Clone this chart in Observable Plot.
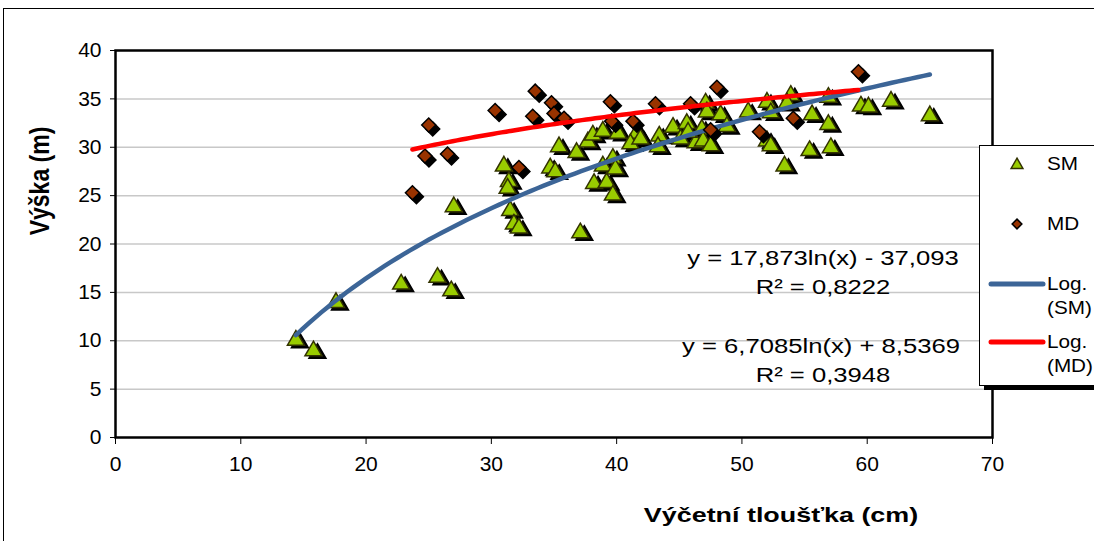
<!DOCTYPE html>
<html>
<head>
<meta charset="utf-8">
<script src="https://cdn.jsdelivr.net/npm/d3@7"></script>
<script src="https://cdn.jsdelivr.net/npm/@observablehq/plot@0.6"></script>
<style>
  html, body { margin: 0; padding: 0; background: white; }
  #wrap { position: relative; width: 1094px; height: 541px; overflow: hidden; font-family: "Liberation Sans", Arial, sans-serif; }
  #outer { position: absolute; left: 3px; top: 8px; width: 1200px; height: 700px; border-left: 1.5px solid #000; border-top: 1.5px solid #000; }
  .t { position: absolute; white-space: nowrap; color: #000; }
  #legend { position: absolute; left: 979px; top: 145px; width: 130px; height: 239px; background: white; border: 1px solid #000; box-shadow: 5px 4px 0 #000; }
</style>
</head>
<body>
<div id="wrap">
  <div id="outer"></div>
  <div id="chart" style="position:absolute;left:0;top:0;"></div>
  <div class="t" style="left:40px;top:181px;transform:translate(-50%,-50%) rotate(-90deg) scaleY(1.2);font-weight:bold;font-size:23px;">Výška (m)</div>
  <div class="t" style="left:781px;top:515px;transform:translate(-50%,-50%) scaleX(1.28);font-weight:bold;font-size:21px;">Výčetní tloušťka (cm)</div>
  <div class="t" id="eq1" style="left:823px;top:258px;transform:translate(-50%,-50%) scaleX(1.25);font-size:20.5px;"></div>
  <div class="t" id="r1" style="left:823px;top:287px;transform:translate(-50%,-50%) scaleX(1.25);font-size:20.5px;"></div>
  <div class="t" id="eq2" style="left:821px;top:346px;transform:translate(-50%,-50%) scaleX(1.25);font-size:20.5px;"></div>
  <div class="t" id="r2" style="left:823px;top:375px;transform:translate(-50%,-50%) scaleX(1.25);font-size:20.5px;"></div>
  <div id="legend"></div>
</div>
<script>
// ---- data ----
const smX = [14.4, 15.8, 17.6, 22.8, 25.7, 26.8, 27.0, 31.0, 31.4, 31.3, 31.5, 31.8, 32.2, 37.1, 34.7, 35.1,
  35.4, 36.8, 37.7, 38.1, 38.9, 38.9, 38.2, 39.2, 39.7, 39.7, 39.9, 40.1, 41.6, 41.1, 43.4, 43.3,
  44.5, 45.1, 45.6, 46.3, 46.8, 46.9, 47.1, 47.2, 47.5, 48.3, 48.8, 50.5, 52.0, 52.3, 53.9, 53.6,
  52.0, 52.3, 53.4, 55.6, 56.9, 56.9, 55.4, 57.1, 59.5, 60.1, 61.9, 65.0, 45.7, 41.9];
const smY = [10.2, 9.1, 14.1, 16.0, 16.7, 15.3, 24.0, 28.2, 26.6, 25.9, 23.6, 22.2, 21.8, 21.3, 28.0, 27.6,
  30.2, 29.6, 30.7, 31.4, 31.8, 28.2, 26.4, 26.5, 25.2, 29.0, 27.9, 31.6, 31.6, 30.5, 31.3, 30.2,
  32.2, 31.0, 32.6, 30.6, 32.0, 30.8, 34.7, 33.8, 30.3, 33.5, 32.3, 33.8, 34.8, 33.7, 35.5, 34.7,
  30.8, 30.3, 28.2, 33.5, 32.5, 35.3, 29.8, 30.1, 34.4, 34.3, 34.9, 33.4, 31.7, 31.0];
const mdX = [23.7, 25.0, 24.7, 26.5, 30.3, 32.2, 33.5, 33.3, 34.8, 35.0, 35.8, 39.5, 39.6, 41.3, 43.1, 45.9,
  47.5, 48.0, 51.4, 54.1, 59.3];
const mdY = [25.3, 32.3, 29.1, 29.3, 33.8, 27.9, 35.8, 33.2, 34.6, 33.5, 33.0, 34.7, 32.7, 32.7, 34.5, 34.5,
  31.8, 36.2, 31.6, 33.0, 37.8];
// logarithmic trend line coefficients as printed on the chart: y = a*ln(x) + b
const smCoef = [17.873, -37.093], smR2 = "0,8222";
const mdCoef = [6.7085, 8.5369], mdR2 = "0,3948";
const seriesNames = ["SM", "MD"];
const trendNames = ["Log.\n(SM)", "Log.\n(MD)"];
const xTicks = [0, 10, 20, 30, 40, 50, 60, 70];
const yTicks = [0, 5, 10, 15, 20, 25, 30, 35, 40];

const sm = smX.map((x, i) => ({x, y: smY[i]}));
const md = mdX.map((x, i) => ({x, y: mdY[i]}));
function trend(xs, c) {
  const lo = d3.min(xs), hi = d3.max(xs);
  return d3.range(0, 101).map(k => { const x = lo + (hi - lo) * k / 100; return {x, y: c[0] * Math.log(x) + c[1]}; });
}
const smLine = trend(smX, smCoef), mdLine = trend(mdX, mdCoef);

const GREEN = "#99cc00", GREEN_STROKE = "#333300", BROWN = "#993300", BLUE = "#3c6597", RED = "#ff0000";

const chart = Plot.plot({
  width: 1094, height: 541,
  marginLeft: 115, marginRight: 102, marginTop: 50, marginBottom: 104,
  x: {domain: [0, 70]},
  y: {domain: [0, 40]},
  style: {fontFamily: "'Liberation Sans', Arial, sans-serif", fontSize: "21px", color: "#000", background: "transparent", overflow: "visible"},
  marks: [
    Plot.gridY(yTicks.slice(1, -1), {stroke: "#c8c8c8", strokeOpacity: 1, strokeWidth: 1.5}),
    Plot.axisX({ticks: xTicks, tickSize: 7, tickPadding: 12, label: null, fontSize: 21, stroke: "#000"}),
    Plot.axisY({ticks: yTicks, tickSize: 5, tickPadding: 9, label: null, fontSize: 21, stroke: "#000"}),
    Plot.frame({stroke: "#000", strokeWidth: 2.5}),
    Plot.dot(sm, {x: "x", y: "y", symbol: "triangle", r: 6.3, fill: "#000", stroke: "#000", strokeWidth: 1.5, dx: 4, dy: 4}),
    Plot.dot(sm, {x: "x", y: "y", symbol: "triangle", r: 6.3, fill: GREEN, stroke: GREEN_STROKE, strokeWidth: 1.5, dy: 1.5}),
    Plot.line(smLine, {x: "x", y: "y", stroke: BLUE, strokeWidth: 4.5, strokeLinecap: "round"}),
    Plot.dot(md, {x: "x", y: "y", symbol: "diamond2", r: 6.3, fill: "#000", stroke: "#000", strokeWidth: 1.5, dx: 4, dy: 4}),
    Plot.dot(md, {x: "x", y: "y", symbol: "diamond2", r: 6.3, fill: BROWN, stroke: "#000", strokeWidth: 1.5}),
    Plot.line(mdLine, {x: "x", y: "y", stroke: RED, strokeWidth: 4.5, strokeLinecap: "round"})
  ]
});
document.getElementById("chart").append(chart);

const fmt = v => Math.abs(v).toFixed(String(v).split(".")[1].length).replace(".", ",");
document.getElementById("eq1").textContent = `y = ${fmt(smCoef[0])}ln(x) ${smCoef[1] < 0 ? "-" : "+"} ${fmt(smCoef[1])}`;
document.getElementById("r1").textContent = `R² = ${smR2}`;
document.getElementById("eq2").textContent = `y = ${fmt(mdCoef[0])}ln(x) ${mdCoef[1] < 0 ? "-" : "+"} ${fmt(mdCoef[1])}`;
document.getElementById("r2").textContent = `R² = ${mdR2}`;

// legend
const lg = document.getElementById("legend");
const tri = d3.symbol(d3.symbolTriangle, 60)();
const dia = d3.symbol(d3.symbolDiamond2, 60)();
const lt = (x, y, s) => `<text transform="translate(${x},${y}) scale(1.15,1)">${s}</text>`;
lg.innerHTML = `
  <svg width="130" height="239" style="position:absolute;left:0;top:0;font-family:'Liberation Sans',Arial,sans-serif;font-size:18px;">
    <path d="${tri}" transform="translate(37,19)" fill="${GREEN}" stroke="${GREEN_STROKE}" stroke-width="1.5"/>
    ${lt(67, 24, seriesNames[0])}
    <path d="${dia}" transform="translate(37,78)" fill="${BROWN}" stroke="#000" stroke-width="1.5"/>
    ${lt(67, 84, seriesNames[1])}
    <line x1="11" x2="63" y1="138" y2="138" stroke="${BLUE}" stroke-width="5" stroke-linecap="round"/>
    ${lt(67, 144, trendNames[0].split("\n")[0])}
    ${lt(67, 168, trendNames[0].split("\n")[1])}
    <line x1="11" x2="63" y1="196" y2="196" stroke="${RED}" stroke-width="5" stroke-linecap="round"/>
    ${lt(67, 202, trendNames[1].split("\n")[0])}
    ${lt(67, 226, trendNames[1].split("\n")[1])}
  </svg>`;
</script>
</body>
</html>
